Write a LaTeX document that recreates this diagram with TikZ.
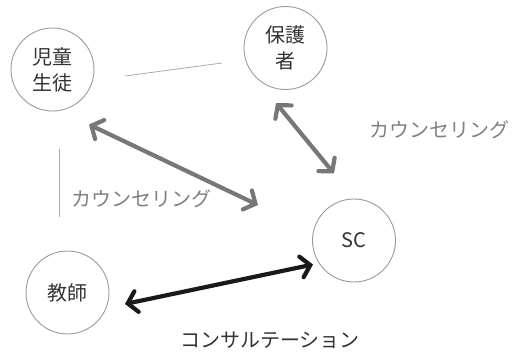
\documentclass[tikz,border=0pt]{standalone}
\usepackage{fontspec}
\setmainfont{Noto Sans CJK JP}
\usetikzlibrary{arrows.meta}
\definecolor{ringgray}{HTML}{9A9A9A}
\definecolor{arrowgray}{HTML}{777777}
\definecolor{labelgray}{HTML}{808080}
\definecolor{textdark}{HTML}{333333}
\definecolor{thinline}{HTML}{AAAAAA}
\tikzset{
  party/.style={circle, draw=ringgray, line width=0.9pt, minimum size=83pt, inner sep=0pt,
    align=center, text=textdark, font=\fontsize{20}{26}\selectfont},
  grayarrow/.style={draw=arrowgray, line width=4.2pt,
    {Straight Barb[length=9pt,width=21pt,line cap=round]}-{Straight Barb[length=9pt,width=21pt,line cap=round]}},
  blackarrow/.style={draw=black!90, line width=4.2pt,
    {Straight Barb[length=9pt,width=21pt,line cap=round]}-{Straight Barb[length=9pt,width=21pt,line cap=round]}},
  kana/.style={text=labelgray, font=\fontsize{20}{22}\selectfont, inner sep=0pt},
  divider/.style={draw=thinline, line width=0.8pt}
}
\begin{document}
\begin{tikzpicture}[x=1pt,y=-1pt]
\useasboundingbox (0,0) rectangle (518,353);
\node[party] (child) at (52.5,69.5) {児童\\生徒};
\node[party] (parent) at (285.5,48) {保護\\者};
\node[party] (sc) at (354,240.5) {SC};
\node[party] (teacher) at (67.5,292.5) {教師};

\coordinate (l1a) at (125,76);
\coordinate (l1b) at (222,63);
\draw[divider] (l1a) -- (l1b);
\coordinate (l2a) at (59,149);
\coordinate (l2b) at (59,217);
\draw[divider] (l2a) -- (l2b);

\coordinate (a1s) at (89,124.5);
\coordinate (a1e) at (258,205);
\draw[grayarrow] (a1s) -- (a1e);
\coordinate (a2s) at (276,103);
\coordinate (a2e) at (334,173.5);
\draw[grayarrow] (a2s) -- (a2e);
\coordinate (a3s) at (125,304);
\coordinate (a3e) at (313,264.5);
\draw[blackarrow] (a3s) -- (a3e);

\node[kana] (k1) at (439,130) {カウンセリング};
\node[kana] (k2) at (141,199) {カウンセリング};
\node[kana, text=textdark] (k3) at (270,340) {コンサルテーション};
\end{tikzpicture}
\end{document}
